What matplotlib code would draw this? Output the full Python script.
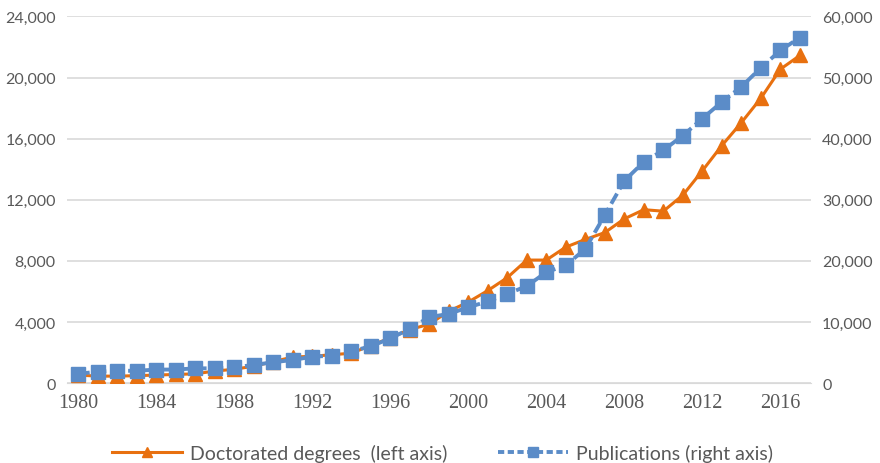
import matplotlib

matplotlib.use("Agg")
import matplotlib.pyplot as plt  # noqa: E402
from matplotlib.ticker import FuncFormatter, MultipleLocator  # noqa: E402

years = list(range(1980, 2018))

doctorates = [
    520, 450, 450, 480, 520, 560, 600, 780, 900, 1100,
    1400, 1700, 1750, 1850, 1950, 2450, 2950, 3500, 3850, 4700,
    5300, 6050, 6900, 8050, 8050, 8900, 9400, 9850, 10750, 11350,
    11250, 12300, 13900, 15550, 17050, 18650, 20550, 21450,
]

publications = [
    1500, 1850, 2000, 2000, 2200, 2200, 2400, 2400, 2570, 2950,
    3400, 3770, 4300, 4480, 5200, 6000, 7300, 8850, 10800, 11300,
    12400, 13350, 14600, 15850, 18150, 19250, 21950, 27500, 33100, 36200,
    38100, 40500, 43300, 46000, 48500, 51600, 54450, 56550,
]

ORANGE = "#E8700F"
BLUE = "#5B8CC8"
GREY = "#595959"

fig = plt.figure(figsize=(8.8, 4.64), dpi=100)
ax = fig.add_axes([0.0761, 0.1724, 0.8455, 0.7899])
ax2 = ax.twinx()

ax.plot(years, doctorates, color=ORANGE, linewidth=2.2, marker="^",
        markersize=10, zorder=3)
ax2.plot(years, publications, color=BLUE, linewidth=2.8, linestyle=(0, (3, 1.3)),
         marker="s", markersize=9.5, zorder=3)

ax.set_xlim(1979.43, 2017.57)
ax.set_ylim(0, 24000)
ax2.set_ylim(0, 60000)
ax.yaxis.set_major_locator(MultipleLocator(4000))
ax2.yaxis.set_major_locator(MultipleLocator(10000))
ax.xaxis.set_major_locator(MultipleLocator(4))

comma = FuncFormatter(lambda v, _: f"{v:,.0f}")
ax.yaxis.set_major_formatter(comma)
ax2.yaxis.set_major_formatter(comma)

ax.grid(axis="y", color="#D9D9D9", linewidth=1.2)
ax.set_axisbelow(True)
for a in (ax, ax2):
    for s in a.spines.values():
        s.set_visible(False)
    a.tick_params(length=0, colors=GREY, labelsize=11.5)
ax.spines["bottom"].set_visible(True)
ax.spines["bottom"].set_color("#D9D9D9")
ax.tick_params(axis="y", pad=8)
ax2.tick_params(axis="y", pad=8)
for lab in ax.get_yticklabels() + ax2.get_yticklabels():
    lab.set_family("Lato")
for lab in ax.get_xticklabels():
    lab.set_family("Liberation Serif")
    lab.set_fontsize(14.5)
ax.tick_params(axis="x", pad=7)

# smaller markers in the legend keys than on the lines
h1 = plt.Line2D([], [], color=ORANGE, linewidth=2.2, marker="^", markersize=7)
h2 = plt.Line2D([], [], color=BLUE, linewidth=2.8, linestyle=(0, (1.6, 0.9)),
                marker="s", markersize=7)
leg = fig.legend(handles=[h1, h2],
                 labels=["Doctorated degrees  (left axis)", "Publications (right axis)"],
                 loc="lower center", bbox_to_anchor=(0.503, -0.035),
                 ncol=2, frameon=False, handlelength=3.6, handletextpad=0.4,
                 columnspacing=2.6, prop={"family": "Lato", "size": 14})
for t in leg.get_texts():
    t.set_color(GREY)

fig.savefig("out.png", dpi=100)
